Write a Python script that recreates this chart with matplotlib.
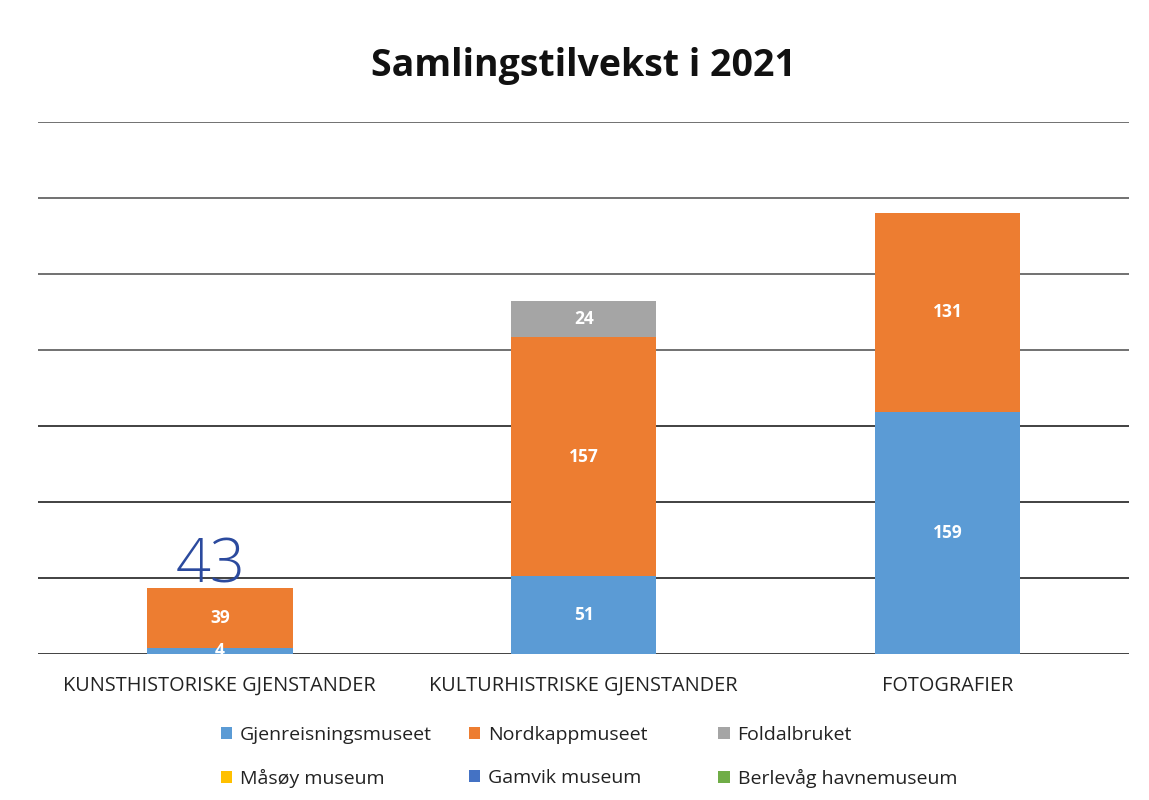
import matplotlib
matplotlib.use("Agg")
import matplotlib.pyplot as plt
import numpy as np

categories = ["KUNSTHISTORISKE GJENSTANDER", "KULTURHISTRISKE GJENSTANDER", "FOTOGRAFIER"]
series_names = ["Gjenreisningsmuseet", "Nordkappmuseet", "Foldalbruket",
                "Måsøy museum", "Gamvik museum", "Berlevåg havnemuseum"]
gjenreisning = [4, 51, 159]
nordkapp = [39, 157, 131]
foldal = [0, 24, 0]
masoy = [0, 0, 0]
gamvik = [0, 0, 0]
berlevag = [0, 0, 0]
series_values = [gjenreisning, nordkapp, foldal, masoy, gamvik, berlevag]
colors = ["#5B9BD5", "#ED7D31", "#A5A5A5", "#FFC000", "#4472C4", "#70AD47"]
handwritten_note = "43"
gridlines = [0, 50, 100, 150, 200, 250, 300, 350]

plt.rcParams['font.family'] = ['Open Sans', 'DejaVu Sans']

fig = plt.figure(figsize=(11.49, 8), dpi=100)
ax = fig.add_axes([0.033, 0.183, 0.950, 0.665])

x = np.arange(len(categories))
bottom = np.zeros(len(categories))
handles = []
for name, vals, col in zip(series_names, series_values, colors):
    vals = np.array(vals, dtype=float)
    b = ax.bar(x, vals, 0.4, bottom=bottom, color=col, label=name, zorder=3)
    handles.append(b)
    for xi, v, bt in zip(x, vals, bottom):
        if v > 0:
            ax.text(xi, bt + v / 2, f"{int(v)}", ha="center", va="center",
                    color="white", fontsize=12.5, fontweight="bold", zorder=4)
    bottom += vals

ax.set_xlim(-0.5, 2.5)
ax.set_ylim(0, 350)
for g in gridlines:
    ax.axhline(g, color="#333333" if g < 200 else "#666666", lw=1.3, zorder=1)
for s in ax.spines.values():
    s.set_visible(False)
ax.set_yticks([])
ax.set_xticks(x)
ax.set_xticklabels(categories, fontsize=14.3, color="#222222")
ax.tick_params(axis="x", length=0, pad=16)

# handwritten total above first bar
ax.text(x[0] - 0.025, 57, handwritten_note, ha="center", va="center",
        fontsize=44, color="#2B4A9E", fontweight="light", zorder=5)

fig.text(0.508, 0.918, "Samlingstilvekst i 2021", ha="center", va="center",
         fontsize=27, fontweight="bold", color="#111111")

# legend: three columns of equal width, row-major order
col_x = [0.192, 0.408, 0.625]
for c in range(3):
    idx = [c, c + 3]
    leg = fig.legend([handles[i] for i in idx], [series_names[i] for i in idx],
                     ncol=1, loc="upper left", bbox_to_anchor=(col_x[c], 0.093),
                     frameon=False, fontsize=14, handlelength=0.6, handleheight=0.6,
                     handletextpad=0.4, labelspacing=1.3, labelcolor="#222222",
                     borderpad=0, borderaxespad=0)

fig.savefig("out.png", dpi=100, facecolor="white")
